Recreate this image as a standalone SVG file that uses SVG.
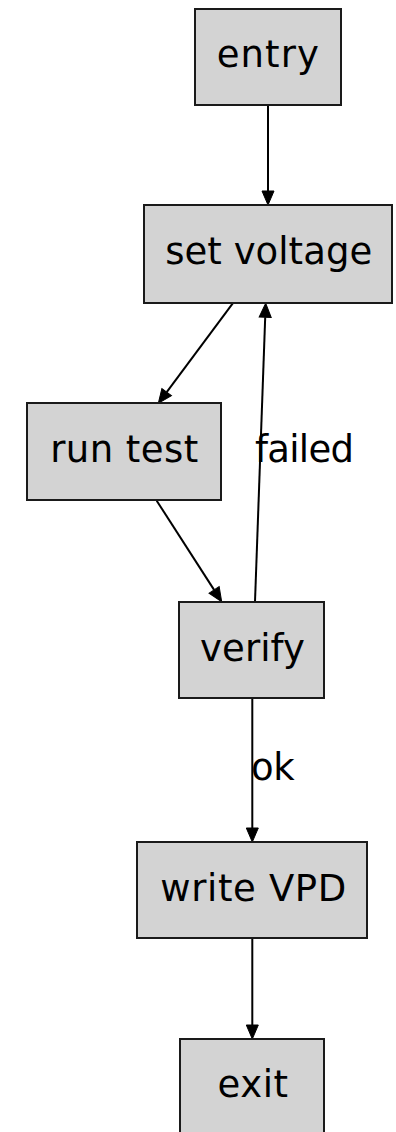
<svg xmlns="http://www.w3.org/2000/svg" width="396" height="1132" viewBox="0 0 396 1132">
  <style>
    .node rect { fill: #d3d3d3; stroke: #1a1a1a; stroke-width: 2; }
    text { font-family: "DejaVu Sans", sans-serif; font-size: 37px; fill: #000; }
    .node text { text-anchor: middle; }
    .edge line { stroke: #000; stroke-width: 2; marker-end: url(#arrow); }
  </style>
  <defs>
    <marker id="arrow" markerUnits="userSpaceOnUse" markerWidth="14" markerHeight="12" refX="0" refY="6" orient="auto" overflow="visible">
      <path d="M0,0 L14,6 L0,12 Z" fill="#000" stroke="#000" stroke-width="1"/>
    </marker>
  </defs>

  <g id="edges" class="edge">
    <line x1="268" y1="105" x2="268" y2="191"/>
    <line x1="233.3" y1="302.7" x2="166.7" y2="392.1"/>
    <line x1="156.7" y1="500.7" x2="214.1" y2="589.9"/>
    <line x1="255" y1="601.7" x2="265.2" y2="317.3"/>
    <text x="255" y="461.5" textLength="99" lengthAdjust="spacing">failed</text>
    <line x1="252.3" y1="698" x2="252.3" y2="828"/>
    <text x="251" y="780" textLength="43.6" lengthAdjust="spacing">ok</text>
    <line x1="252.3" y1="938" x2="252.3" y2="1025"/>
  </g>

  <g id="entry" class="node">
    <rect x="195" y="9" width="146" height="96"/>
    <text x="267.8" y="66.5" textLength="102" lengthAdjust="spacing">entry</text>
  </g>
  <g id="set_voltage" class="node">
    <rect x="144" y="205" width="248" height="98"/>
    <text x="268.7" y="263.5" textLength="207" lengthAdjust="spacing">set voltage</text>
  </g>
  <g id="run_test" class="node">
    <rect x="27" y="403" width="194" height="97"/>
    <text x="124.2" y="462" textLength="148" lengthAdjust="spacing">run test</text>
  </g>
  <g id="verify" class="node">
    <rect x="179" y="602" width="145" height="96"/>
    <text x="252.5" y="660.5" textLength="105" lengthAdjust="spacing">verify</text>
  </g>
  <g id="write_vpd" class="node">
    <rect x="137" y="842" width="230" height="96"/>
    <text x="253.3" y="900.7" textLength="186" lengthAdjust="spacing">write VPD</text>
  </g>
  <g id="exit" class="node">
    <rect x="180" y="1039" width="144" height="96"/>
    <text x="252.8" y="1097" textLength="70.5" lengthAdjust="spacing">exit</text>
  </g>
</svg>
